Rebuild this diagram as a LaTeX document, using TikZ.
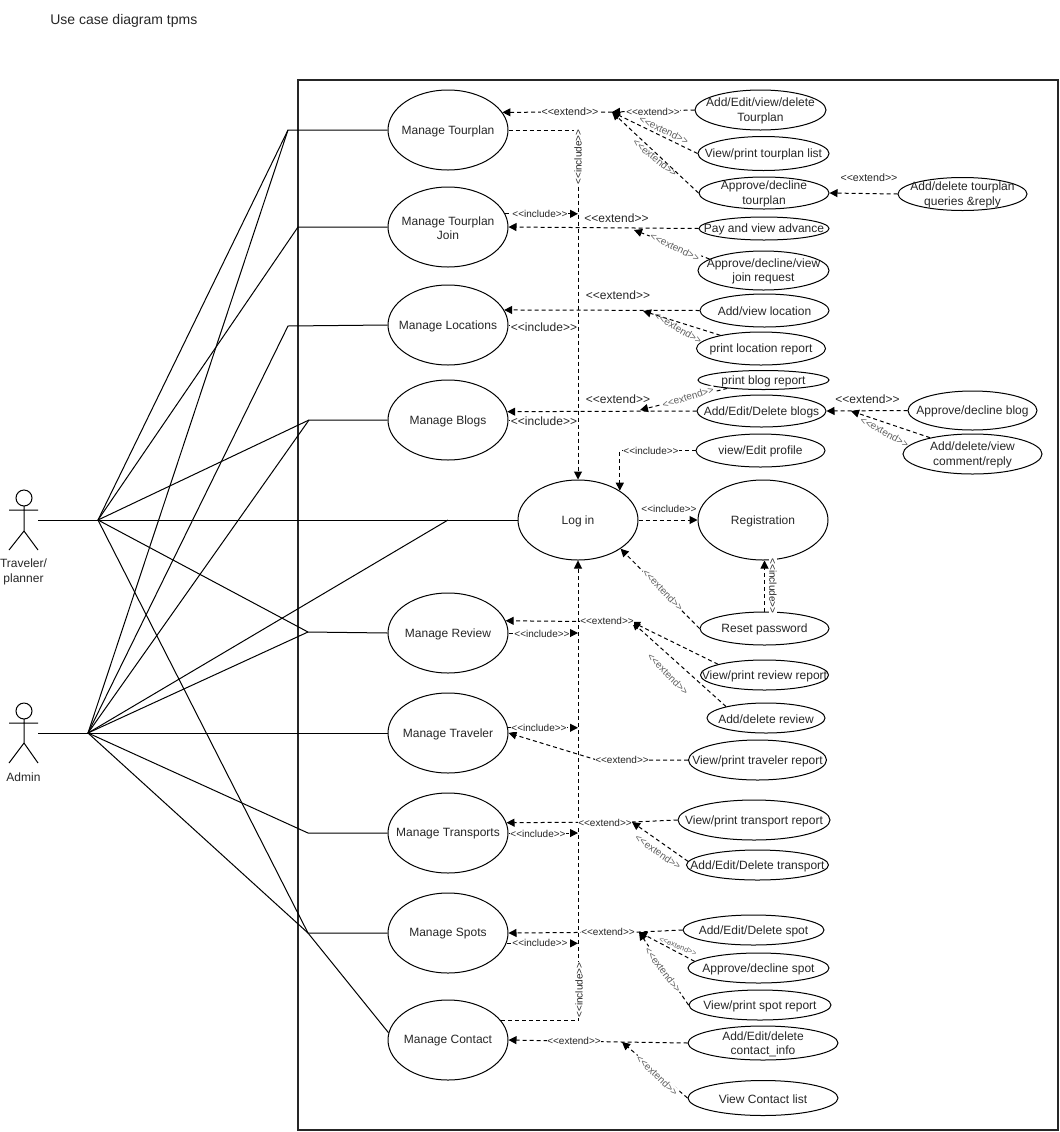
\documentclass[tikz,border=0pt]{standalone}
\usepackage{fontspec}
\setmainfont{Liberation Sans}
\usetikzlibrary{arrows.meta,shapes.geometric}
\definecolor{uclabel}{HTML}{5F5F5F}
\newcommand{\xtd}{<{}<extend>{}>}
\newcommand{\icl}{<{}<include>{}>}
\tikzset{
  usecase/.style n args={3}{ellipse,draw,line width=0.75pt,inner sep=0pt,minimum width=#1*0.75pt,minimum height=#2*0.75pt,
    label={[font=\fontsize{9}{10.7}\selectfont,align=center,inner sep=0pt,text=black!85,yshift=-0.75pt]center:#3}},
  dep/.style={line width=0.75pt,dash pattern=on 3pt off 2.25pt,-{Triangle[length=6pt,width=6pt]}},
  depline/.style={line width=0.75pt,dash pattern=on 3pt off 2.25pt},
  assoc/.style={line width=0.75pt},
  lbl/.style={font=\fontsize{7.5}{9}\selectfont,inner sep=0.5pt,fill=white,text=black!85},
  biglbl/.style={font=\fontsize{9}{11}\selectfont,inner sep=0.5pt,fill=white,text=black!85},
  graylbl/.style={font=\fontsize{7.5}{9}\selectfont,inner sep=0pt,text=uclabel},
  graylblw/.style={graylbl,inner sep=0.5pt,fill=white}
}
\begin{document}
\begin{tikzpicture}[x=0.75pt,y=-0.75pt]
    \useasboundingbox (0,0) rectangle (1060,1132);
    \node[anchor=west,inner sep=0pt,font=\fontsize{10.5}{13}\selectfont,text=black!85] (title) at (50,21) {Use case diagram tpms};
    \draw[line width=1.5pt,black!85] (298,80) rectangle (1058,1130);
    % actors
    \draw[assoc] (24,498) circle (8) (24,506) -- (24,531) (9,510) -- (38,510) (9,550) -- (24,531) -- (38,550);
    \draw[assoc] (24,711) circle (8) (24,719) -- (24,743) (9,723) -- (38,723) (9,763) -- (24,743) -- (38,763);
    \node[font=\fontsize{9}{10.7}\selectfont,align=center,inner sep=0pt,text=black!85] (plannerlbl) at (23.5,572) {Traveler/\\planner};
    \node[font=\fontsize{9}{10.7}\selectfont,inner sep=0pt,text=black!85] (adminlbl) at (23.5,777) {Admin};
    \coordinate (plannerarm) at (38,520);
    \coordinate (adminarm) at (38,733);
    \coordinate (plannerhub) at (98,520);
    \coordinate (adminhub) at (88,733);
    % use cases on the left
    \node[usecase={120}{80}{Manage Tourplan}] (mtour) at (448,130) {};
    \node[usecase={120}{80}{Manage Tourplan\\Join}] (mjoin) at (448,227) {};
    \node[usecase={120}{80}{Manage Locations}] (mloc) at (448,325) {};
    \node[usecase={120}{80}{Manage Blogs}] (mblog) at (448,420) {};
    \node[usecase={120}{80}{Log in}] (login) at (578,520) {};
    \node[usecase={130}{80}{Registration}] (regis) at (763,520) {};
    \node[usecase={120}{80}{Manage Review}] (mreview) at (448,633) {};
    \node[usecase={120}{80}{Manage Traveler}] (mtraveler) at (448,733) {};
    \node[usecase={120}{80}{Manage Transports}] (mtrans) at (448,833) {};
    \node[usecase={120}{80}{Manage Spots}] (mspot) at (448,933) {};
    \node[usecase={120}{80}{Manage Contact}] (mcontact) at (448,1040) {};
    % use cases on the right
    \node[usecase={131}{40}{Add/Edit/view/delete\\Tourplan}] (addtour) at (760.5,110) {};
    \node[usecase={131}{34}{View/print tourplan list}] (viewtour) at (763.5,153.5) {};
    \node[usecase={130}{32}{Approve/decline\\tourplan}] (apptour) at (764,193) {};
    \node[usecase={129}{33}{Add/delete tourplan\\queries \&reply}] (queries) at (962.5,194) {};
    \node[usecase={130}{23}{Pay and view advance}] (payadv) at (764,228.5) {};
    \node[usecase={131}{39}{Approve/decline/view\\join request}] (joinreq) at (763.5,270.5) {};
    \node[usecase={129}{33}{Add/view location}] (addloc) at (764.5,310.5) {};
    \node[usecase={129}{33}{print location report}] (prloc) at (761,348.5) {};
    \node[usecase={131}{19}{print blog report}] (prblog) at (763.5,380) {};
    \node[usecase={129}{32}{Add/Edit/Delete blogs}] (addblog) at (761.5,411) {};
    \node[usecase={129}{39}{Approve/decline blog}] (appblog) at (972.5,410.5) {};
    \node[usecase={139}{40}{Add/delete/view\\comment/reply}] (comment) at (972.5,454) {};
    \node[usecase={129}{33}{view/Edit profile}] (profile) at (760.5,450.5) {};
    \node[usecase={129}{33}{Reset password}] (reset) at (764.5,628.5) {};
    \node[usecase={128}{30}{View/print review report}] (prreview) at (764.5,675) {};
    \node[usecase={118}{30}{Add/delete review}] (addreview) at (766,718) {};
    \node[usecase={138}{40}{View/print traveler report}] (prtraveler) at (757.5,760) {};
    \node[usecase={152}{40}{View/print transport report}] (prtrans) at (754,820) {};
    \node[usecase={142}{30}{Add/Edit/Delete transport}] (addtrans) at (757.5,865) {};
    \node[usecase={141}{30}{Add/Edit/Delete spot}] (addspot) at (753.5,930) {};
    \node[usecase={141}{30}{Approve/decline spot}] (appspot) at (758.5,968) {};
    \node[usecase={142}{30}{View/print spot report}] (prspot) at (760,1005) {};
    \node[usecase={150}{34}{Add/Edit/delete\\contact\_info}] (addcontact) at (763,1043) {};
    \node[usecase={150}{35}{View Contact list}] (viewcontact) at (763,1098) {};
    % associations, actors side
    \coordinate (tourbend) at (288,130);
    \coordinate (joinbend) at (298,227);
    \coordinate (locbend) at (288,326);
    \coordinate (blogbend) at (309,420);
    \coordinate (logbend) at (448,520);
    \coordinate (reviewbend) at (308,632);
    \coordinate (transbend) at (308,833);
    \coordinate (spotbend) at (308,933);
    \draw[assoc] (plannerarm) -- (plannerhub);
    \draw[assoc] (adminarm) -- (adminhub);
    \draw[assoc] (plannerhub) -- (tourbend) -- (mtour.west);
    \draw[assoc] (adminhub) -- (tourbend);
    \draw[assoc] (plannerhub) -- (joinbend) -- (mjoin.west);
    \draw[assoc] (adminhub) -- (locbend) -- (mloc.west);
    \draw[assoc] (plannerhub) -- (blogbend) -- (mblog.west);
    \draw[assoc] (adminhub) -- (blogbend);
    \draw[assoc] (plannerhub) -- (login.west);
    \draw[assoc] (adminhub) -- (logbend);
    \draw[assoc] (plannerhub) -- (reviewbend) -- (mreview.west);
    \draw[assoc] (adminhub) -- (reviewbend);
    \draw[assoc] (adminhub) -- (mtraveler.west);
    \draw[assoc] (adminhub) -- (transbend) -- (mtrans.west);
    \draw[assoc] (plannerhub) -- (spotbend) -- (mspot.west);
    \draw[assoc] (adminhub) -- (spotbend) -- (mcontact.173);
    % include lines to log in
    \draw[dep] (mtour.east) -- (mtour.east -| login.north) -- (login.north);
    \draw[dep] (mcontact.20) -| (login.south);
    \draw[dep] (mjoin.13) -- (mjoin.13 -| login.north);
    \draw[depline] (mloc.east) -- (mloc.east -| login.north);
    \draw[depline] (mblog.east) -- (mblog.east -| login.north);
    \draw[dep] (mreview.east) -- (mreview.east -| login.south);
    \draw[dep] (mtraveler.5) -- (mtraveler.5 -| login.south);
    \draw[dep] (mtrans.east) -- (mtrans.east -| login.south);
    \draw[dep] (mspot.-10) -- (mspot.-10 -| login.south);
    \draw[dep] (login.east) -- (regis.west);
    \draw[dep] (reset.north) -- (reset.north |- regis.south);
    \draw[dep] (profile.west) -| (login.35);
    \draw[dep] (reset.west) -- (login.-34);
    % extend lines
    \coordinate (tourhub) at (612,112);
    \coordinate (joinhub) at (634,230);
    \coordinate (lochub) at (643,311);
    \coordinate (bloghub) at (640,410);
    \coordinate (commenthub) at (851,411);
    \coordinate (reviewhub) at (632,622);
    \coordinate (travelerbend) at (597,760);
    \coordinate (transhub) at (632,822);
    \coordinate (spothub) at (639,932);
    \coordinate (contacthub) at (622,1042);
    \draw[dep] (tourhub) -- (mtour.18);
    \draw[dep] (addtour.west) -- (tourhub);
    \draw[dep] (viewtour.west) -- (tourhub);
    \draw[dep] (apptour.west) -- (tourhub);
    \draw[dep] (queries.west) -- (apptour.east);
    \draw[dep] (payadv.west) -- (mjoin.east);
    \draw[dep] (joinreq.168) -- (joinhub);
    \draw[dep] (addloc.west) -- (mloc.15);
    \draw[dep] (prloc.162) -- (lochub);
    \draw[dep] (addblog.west) -- (mblog.8);
    \draw[dep] (prblog.193) -- (bloghub);
    \draw[dep] (appblog.west) -- (addblog.east);
    \draw[dep] (comment.159) -- (commenthub);
    \draw[dep] (reviewhub) -- (mreview.12);
    \draw[dep] (prreview.167) -- (reviewhub);
    \draw[dep] (addreview.164) -- (reviewhub);
    \draw[dep] (prtraveler.west) -- (travelerbend) -- (mtraveler.east);
    \draw[dep] (prtrans.west) -- (transhub) -- (mtrans.10);
    \draw[dep] (addtrans.177) -- (transhub);
    \draw[dep] (addspot.west) -- (spothub) -- (mspot.east);
    \draw[dep] (appspot.174) -- (spothub);
    \draw[dep] (prspot.west) -- (spothub);
    \draw[dep] (addcontact.west) -- (contacthub) -- (mcontact.east);
    \draw[dep] (viewcontact.west) -- (contacthub);
    % labels on the lines
    \node[lbl,rotate=90] (incA) at (578,157) {\icl};
    \node[lbl] (incB) at (540,214) {\icl};
    \node[biglbl] (incC) at (544,327) {\icl};
    \node[biglbl] (incD) at (544,421) {\icl};
    \node[lbl] (incE) at (651,451) {\icl};
    \node[lbl] (incF) at (669,509) {\icl};
    \node[lbl,rotate=-90] (incG) at (773,586) {\icl};
    \node[lbl] (incH) at (542,634) {\icl};
    \node[lbl] (incI) at (539,728) {\icl};
    \node[lbl] (incJ) at (538,834) {\icl};
    \node[lbl] (incK) at (540,943) {\icl};
    \node[lbl,rotate=90] (incL) at (579,990) {\icl};
    \node[lbl,font=\fontsize{8}{9}\selectfont] (extA) at (570,112) {\xtd};
    \node[lbl] (extB) at (653,112) {\xtd};
    \node[graylbl,rotate=-26] (extC) at (664,130) {\xtd};
    \node[graylbl,rotate=-39] (extD) at (655,158) {\xtd};
    \node[lbl,fill=none,font=\fontsize{8}{9}\selectfont] (extE) at (869,178) {\xtd};
    \node[biglbl,fill=none] (extF) at (616.5,218) {\xtd};
    \node[graylblw,rotate=-26] (extG) at (675,247) {\xtd};
    \node[biglbl,fill=none] (extH) at (618,295) {\xtd};
    \node[graylbl,rotate=-31] (extI) at (678,328) {\xtd};
    \node[biglbl,fill=none] (extJ) at (618,399) {\xtd};
    \node[graylblw,rotate=17] (extK) at (688,397) {\xtd};
    \node[biglbl,fill=none] (extL) at (867.5,399) {\xtd};
    \node[graylbl,rotate=-29] (extM) at (884.5,432) {\xtd};
    \node[graylblw,rotate=-46] (extN) at (663,590) {\xtd};
    \node[lbl] (extO) at (607,621) {\xtd};
    \node[graylbl,rotate=-45] (extP) at (668,674) {\xtd};
    \node[lbl] (extQ) at (622,760) {\xtd};
    \node[lbl] (extR) at (605,823) {\xtd};
    \node[graylbl,rotate=-35] (extS) at (658,852) {\xtd};
    \node[lbl] (extT) at (608,932) {\xtd};
    \node[graylbl,rotate=-22,font=\fontsize{5.6}{7}\selectfont] (extU) at (678,946) {\xtd};
    \node[graylblw,rotate=-53] (extV) at (663,970) {\xtd};
    \node[lbl] (extW) at (574,1041) {\xtd};
    \node[graylblw,rotate=-44] (extX) at (657,1075) {\xtd};
\end{tikzpicture}
\end{document}
